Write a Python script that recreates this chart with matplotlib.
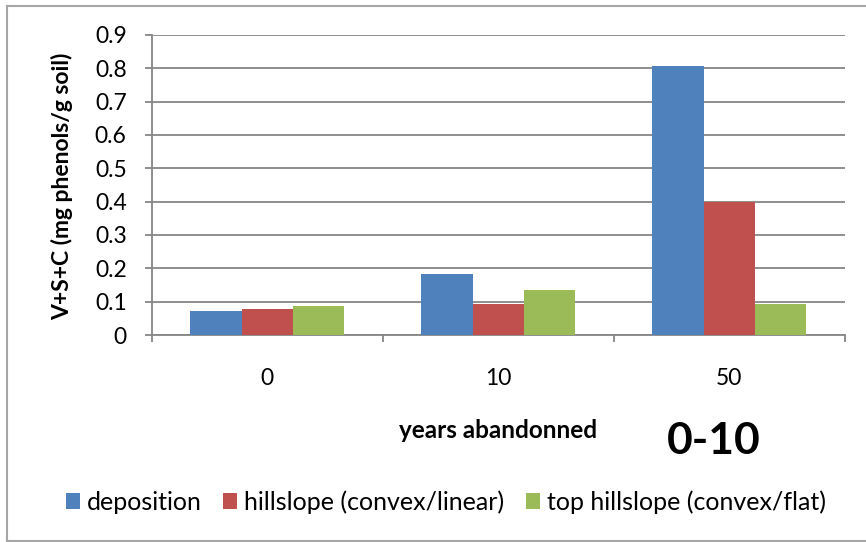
import numpy as np
import matplotlib
matplotlib.use('Agg')
import matplotlib.pyplot as plt
from matplotlib.lines import Line2D
from matplotlib.patches import Patch

plt.rcParams['font.family'] = ['Lato', 'DejaVu Sans']

W, H = 866, 542

years = ['0', '10', '50']
series = ['deposition', 'hillslope (convex/linear)', 'top hillslope (convex/flat)']
deposition = [0.073, 0.182, 0.807]
hillslope = [0.079, 0.093, 0.400]
top_hillslope = [0.087, 0.136, 0.093]
colors = ['#4F81BD', '#C0504D', '#9BBB59']
yticks = [0, 0.1, 0.2, 0.3, 0.4, 0.5, 0.6, 0.7, 0.8, 0.9]

GRID = '#868686'


def px(x, y):
    """Pixel position (from top-left) to figure fraction."""
    return x / W, 1 - y / H


fig = plt.figure(figsize=(W / 100, H / 100), dpi=100)
left, top = px(151.7, 35)
right, bottom = px(845, 335)
ax = fig.add_axes([left, bottom, right - left, top - bottom])

x = np.arange(len(years))
width = 1 / 4.5
for i, (vals, col) in enumerate(zip([deposition, hillslope, top_hillslope], colors)):
    ax.bar(x + (i - 1) * width, vals, width, color=col, edgecolor='none', zorder=3)

ax.set_xlim(-0.5, len(years) - 0.5)
ax.set_ylim(0, 0.9)
ax.set_yticks(yticks)
ax.set_yticklabels(['0' if v == 0 else '{:g}'.format(v) for v in yticks])
ax.yaxis.grid(True, color=GRID, linewidth=1.3, zorder=0)

ax.set_xticks(x)
ax.set_xticklabels(years)
ax.set_xticks(np.arange(len(years) + 1) - 0.5, minor=True)
ax.tick_params(axis='x', which='major', length=0, pad=24, labelsize=16.5)
ax.tick_params(axis='x', which='minor', length=5, width=1.3, color=GRID)
ax.tick_params(axis='y', length=5, width=1.3, color=GRID, pad=13, labelsize=16.5)

for side in ['top', 'right']:
    ax.spines[side].set_visible(False)
for side in ['left', 'bottom']:
    ax.spines[side].set_color(GRID)
    ax.spines[side].set_linewidth(1.3)

fig.text(*px(62, 186), 'V+S+C (mg phenols/g soil)', rotation=90,
         ha='center', va='center', fontsize=16.5, fontweight='bold')
fig.text(*px(498, 430), 'years abandonned', ha='center', va='center',
         fontsize=17.5, fontweight='bold')
fig.text(*px(714, 441), '0-10', ha='center', va='center',
         fontsize=32, fontweight='bold')

handles = [Patch(facecolor=c, edgecolor='none') for c in colors]
fig.legend(handles, series, loc='center', bbox_to_anchor=px(446, 502),
           ncol=3, frameon=False, fontsize=18, handlelength=0.56,
           handleheight=0.56, handletextpad=0.28, columnspacing=0.85,
           borderpad=0, borderaxespad=0)

# chart area border
bx0, by0 = px(7, 6)
bx1, by1 = px(866, 541)
for xs, ys in [([bx0, bx1], [by0, by0]), ([bx0, bx0], [by0, by1]),
               ([bx0, bx1], [by1, by1])]:
    fig.add_artist(Line2D(xs, ys, color='#A6A6A6', linewidth=1.5))

fig.savefig('out.png', dpi=100)
